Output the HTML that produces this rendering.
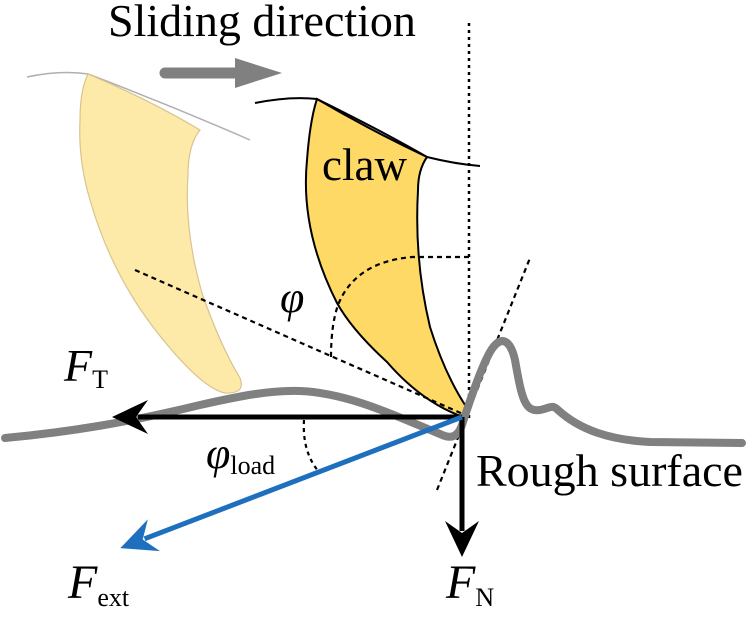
<!DOCTYPE html>
<html><head><meta charset="utf-8"><style>
html,body{margin:0;padding:0;background:#fff;}
svg{display:block;}
text{font-family:"Liberation Serif","Times New Roman",serif;}
</style></head><body>
<svg id="fig" width="750" height="621" viewBox="0 0 750 621">
<text x="108" y="36" font-size="46" fill="#000">Sliding direction</text>
<g>
<line x1="165" y1="73" x2="240" y2="73" stroke="#808080" stroke-width="11" stroke-linecap="round"/>
<polygon points="235,58 282,73 235,88" fill="#808080"/>
</g>
<g>
<path d="M27,77 Q60,70 88,74 Q170,105 250,140" fill="none" stroke="#b0b0b0" stroke-width="1.5"/>
<path d="M88,74 Q150,100 200,130 Q188,145 188,175 Q184,230 202,293 Q220,345 240,378 Q246,394 225,393 Q200,388 153,327 Q110,270 90,200 Q78,160 80,120 Q80,90 88,74 z" fill="#fde9a8" stroke="#d8c48e" stroke-width="1.2"/>
</g>
<line x1="469" y1="23" x2="469" y2="420" stroke="#000" stroke-width="2.5" stroke-dasharray="3,4"/>
<g>
<path d="M255,103 Q290,96 317,99 Q380,130 427,157 Q455,164 480,166" fill="none" stroke="#000" stroke-width="2"/>
<path d="M317,99 Q370,130 427,157 Q418,170 418,190 Q414,260 430,327 Q445,375 467,408 Q468,418 458,415 Q420,400 387,362 Q352,330 337,303 Q300,230 307,160 Q310,120 317,99 z" fill="#ffd966" stroke="#000" stroke-width="2"/>
</g>
<line x1="135" y1="270" x2="463" y2="414" stroke="#000" stroke-width="2.2" stroke-dasharray="5,4"/>
<line x1="437" y1="490" x2="530" y2="258" stroke="#000" stroke-width="2.2" stroke-dasharray="5,4"/>
<text x="322" y="180" font-size="45">claw</text>
<path d="M469,257 L412,257 Q355,262 338,305 Q331,325 331,357" fill="none" stroke="#000" stroke-width="2.2" stroke-dasharray="5,4"/>
<path d="M304,420 Q302,452 319,472" fill="none" stroke="#000" stroke-width="2.2" stroke-dasharray="4,4"/>
<path d="M5,438 C70,432 130,422 200,405 C240,396 270,390 300,391 C350,393 400,418 440,434 C452,440 458,436 462,425 C470,400 480,370 490,352 C500,335 510,338 515,360 C522,400 525,412 540,410 C550,408 552,404 558,410 C580,430 610,440 650,442 L742,443" fill="none" stroke="#808080" stroke-width="8" stroke-linecap="round" stroke-linejoin="round"/>
<g id="arrows"></g>
<text x="64" y="381" font-size="46" font-style="italic">F<tspan font-size="26" font-style="normal" dy="7">T</tspan></text>
<text x="280" y="312" font-size="44" font-style="italic">φ</text>
<text x="206" y="468" font-size="44" font-style="italic">φ<tspan font-size="26" font-style="normal" dy="6">load</tspan></text>
<text x="476" y="486" font-size="46">Rough surface</text>
<text x="68" y="598" font-size="48" font-style="italic">F<tspan font-size="26" font-style="normal" dy="8">ext</tspan></text>
<text x="446" y="598" font-size="48" font-style="italic">F<tspan font-size="26" font-style="normal" dy="8">N</tspan></text>
</svg>
<script>
const forceNames = ["ft-arrow", "fn-arrow", "fext-arrow"];
const forceLengths = [350, 140, 366];
const forceAnglesDeg = [180, 90, 159.0];
const forceColors = ["#000", "#000", "#1f6fbf"];
const origin = [462, 417];
const g = document.getElementById('arrows');
const ns = "http://www.w3.org/2000/svg";
forceNames.forEach((n, i) => {
  const a = forceAnglesDeg[i] * Math.PI / 180;
  const L = forceLengths[i];
  const ex = origin[0] + Math.cos(a) * L, ey = origin[1] + Math.sin(a) * L;
  const hl = 36;
  const hx = origin[0] + Math.cos(a) * (L - hl), hy = origin[1] + Math.sin(a) * (L - hl);
  const ln = document.createElementNS(ns, 'line');
  ln.setAttribute('x1', origin[0]); ln.setAttribute('y1', origin[1]);
  ln.setAttribute('x2', hx + Math.cos(a) * 10); ln.setAttribute('y2', hy + Math.sin(a) * 10);
  ln.setAttribute('stroke', forceColors[i]); ln.setAttribute('stroke-width', 5);
  
  
  g.appendChild(ln);
  const px = -Math.sin(a), py = Math.cos(a);
  const p = document.createElementNS(ns, 'polygon');
  const pts = [[ex, ey], [hx + px * 17, hy + py * 17], [hx + Math.cos(a) * 12, hy + Math.sin(a) * 12], [hx - px * 17, hy - py * 17]];
  p.setAttribute('points', pts.map(q => q.join(',')).join(' '));
  p.setAttribute('fill', forceColors[i]);
  
  
  g.appendChild(p);
});
</script>
</body></html>
